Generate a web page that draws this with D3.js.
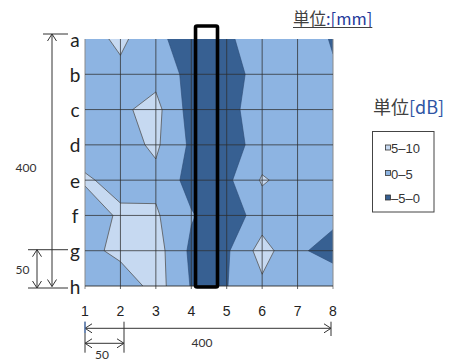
<!DOCTYPE html>
<html><head><meta charset="utf-8">
<script src="https://cdn.jsdelivr.net/npm/d3@7"></script>
<style>html,body{margin:0;padding:0;background:#fff;} svg{display:block;}</style>
</head><body>
<svg id="chart" width="454" height="362"></svg>
<script>
// ---- data ----
const columns = [1, 2, 3, 4, 5, 6, 7, 8];
const rowLabels = ["a", "b", "c", "d", "e", "f", "g", "h"];
const rowA = [2.5, 6.2, 1.0, -2.0, -1.0, 3.3, 2.0, -0.3];
const rowB = [3.0, 3.6, 3.5, -1.7, -2.5, 2.3, 2.5, 0.4];
const rowC = [3.0, 4.2, 6.5, -2.0, -1.5, 2.5, 2.5, 2.5];
const rowD = [3.5, 3.2, 5.8, -0.9, -2.5, 2.3, 2.5, 2.5];
const rowE = [5.4, 4.0, 3.8, -1.8, -1.1, 5.5, 3.0, 2.5];
const rowF = [3.0, 5.54, 5.6, 0.4, -3.0, 2.5, 2.5, 1.7];
const rowG = [3.0, 6.7, 7.1, -1.0, -0.7, 7.0, 1.1, -2.5];
const rowH = [2.5, 1.2, 7.2, -0.3, -0.15, 4.0, 2.5, 4.5];
const bandLevels = [-5, 0, 5, 10];
const legendLabels = ["5\u201310", "0\u20135", "\u20135\u20130"];
const highlightCols = [4.12, 4.74];
const highlightRows = [-0.37, 7.03];
const dimTotal = "400";
const dimStep = "50";
const unitMm = ["単位", ":[mm]"];
const unitDb = ["単位", "[dB]"];

// ---- setup ----
const grid = [rowA, rowB, rowC, rowD, rowE, rowF, rowG, rowH];
const nx = columns.length, ny = rowLabels.length;
const values = grid.flat();

const plot = {left: 85, right: 333, top: 39, bottom: 286};
const x = d3.scaleLinear().domain([1, 8]).range([plot.left, plot.right]);
const y = d3.scaleLinear().domain([0, 7]).range([plot.top, plot.bottom]);
const fills = {light: "#c6d9f1", mid: "#8db4e2", dark: "#376092"};

const svg = d3.select("#chart");
svg.append("defs").append("clipPath").attr("id", "plotClip")
  .append("rect").attr("x", x(1)).attr("y", y(0))
  .attr("width", x(8) - x(1)).attr("height", y(7) - y(0));

const gp = svg.append("g").attr("clip-path", "url(#plotClip)");
gp.append("rect").attr("x", x(1)).attr("y", y(0))
  .attr("width", x(8) - x(1)).attr("height", y(7) - y(0)).attr("fill", fills.light);

// contours on the negated field: region v <= 5 (mid) and v <= 0 (dark)
const neg = values.map(v => -v);
const contours = d3.contours().size([nx, ny])
  .thresholds([-bandLevels[2], -bandLevels[1]])(neg);
const proj = d3.geoTransform({
  point(px, py) { this.stream.point(x(px + 0.5), y(py - 0.5)); }
});
const path = d3.geoPath(proj);
gp.selectAll("path.band").data(contours).join("path")
  .attr("class", "band")
  .attr("d", path)
  .attr("fill", d => d.value === -bandLevels[2] ? fills.mid : fills.dark)
  .attr("stroke", d => d.value === -bandLevels[2] ? "#555" : "#2b4a74")
  .attr("stroke-width", d => d.value === -bandLevels[2] ? 0.8 : 0.6);

// grid lines
const gl = svg.append("g");
columns.forEach((c, i) => {
  const edge = (i === 0 || i === columns.length - 1);
  gl.append("line").attr("x1", x(c)).attr("x2", x(c))
    .attr("y1", y(0)).attr("y2", y(7) + 3)
    .attr("stroke", edge ? "#8a8a8a" : "#2e2e2e").attr("stroke-opacity", edge ? 1 : 0.75)
    .attr("stroke-width", 1);
});
rowLabels.forEach((r, i) => {
  if (i === 0) return;
  gl.append("line").attr("x1", x(1)).attr("x2", x(8))
    .attr("y1", y(i)).attr("y2", y(i))
    .attr("stroke", "#2e2e2e").attr("stroke-opacity", i === 7 ? 0.9 : 0.75).attr("stroke-width", 1);
});

// row labels
svg.append("g").selectAll("text").data(rowLabels).join("text")
  .attr("x", 75).attr("y", (d, i) => y(i))
  .attr("text-anchor", "middle").attr("dominant-baseline", "central")
  .attr("font-family", "Lato, 'Open Sans', sans-serif").attr("font-size", 19)
  .attr("fill", "#222").text(d => d);

// column tick labels
svg.append("g").selectAll("text").data(columns).join("text")
  .attr("x", d => x(d)).attr("y", 311)
  .attr("text-anchor", "middle").attr("dominant-baseline", "central")
  .attr("font-family", "'Liberation Sans', Arial, sans-serif").attr("font-size", 14)
  .attr("fill", "#222").text(d => d);

// highlight rectangle
svg.append("rect")
  .attr("x", x(highlightCols[0])).attr("y", y(highlightRows[0]))
  .attr("width", x(highlightCols[1]) - x(highlightCols[0]))
  .attr("height", y(highlightRows[1]) - y(highlightRows[0]))
  .attr("rx", 1.5).attr("fill", "none").attr("stroke", "#000").attr("stroke-width", 3.6);

// dimension annotations
const dim = svg.append("g").attr("stroke", "#333").attr("stroke-width", 1).attr("fill", "none");
function ln(x1, y1, x2, y2) { dim.append("line").attr("x1", x1).attr("y1", y1).attr("x2", x2).attr("y2", y2); }
function head(px, py, dir) {
  const L = 7, Wd = 4.5;
  let pts;
  if (dir === "up") pts = [[px - Wd, py + L], [px, py], [px + Wd, py + L]];
  if (dir === "down") pts = [[px - Wd, py - L], [px, py], [px + Wd, py - L]];
  if (dir === "left") pts = [[px + L, py - Wd], [px, py], [px + L, py + Wd]];
  if (dir === "right") pts = [[px - L, py - Wd], [px, py], [px - L, py + Wd]];
  dim.append("polyline").attr("points", pts.map(p => p.join(",")).join(" "));
}
// left vertical total
const topDim = 34, botDim = 288;
ln(52, topDim, 52, y(7) + 0.5);
ln(43, topDim, 68, topDim);
head(52, topDim, "up"); head(52, y(7) + 0.5, "down");
ln(28, botDim, 68, botDim);
ln(28, y(6) - 1, 68, y(6) - 1);
ln(37, y(6) - 1, 37, botDim);
head(37, y(6) - 1, "up"); head(37, botDim, "down");
// bottom horizontal total
const yTot = 328.3, yStep = 343.3;
ln(x(1), yTot, x(8) - 2, yTot);
head(x(1), yTot, "left"); head(x(8) - 2, yTot, "right");
ln(x(8) - 2, 321.7, x(8) - 2, 336);
ln(x(1), 321.7, x(1), 352.7);
ln(124, 321.7, 124, 352.7);
ln(x(1), yStep, 124, yStep);
head(x(1), yStep, "left"); head(124, yStep, "right");
svg.append("line").attr("x1", x(1)).attr("x2", x(1)).attr("y1", 321.7).attr("y2", 333)
  .attr("stroke", "#4a7fd0").attr("stroke-width", 1);

const dimText = svg.append("g").attr("font-family", "Lato, 'Open Sans', sans-serif")
  .attr("font-size", 12).attr("fill", "#333").attr("text-anchor", "middle")
  .attr("dominant-baseline", "central");
dimText.append("text").attr("x", 26).attr("y", 167).text(dimTotal);
dimText.append("text").attr("x", 22.5).attr("y", 269).text(dimStep);
dimText.append("text").attr("x", 202).attr("y", 342).text(dimTotal);
dimText.append("text").attr("x", 102).attr("y", 354.5).text(dimStep);

// unit titles
const cjk = "'Noto Sans CJK JP', 'Noto Sans', sans-serif";
const t1 = svg.append("text").attr("x", 293).attr("y", 24.5)
  .attr("font-family", cjk).attr("font-size", 16.5);
t1.append("tspan").attr("fill", "#404040").text(unitMm[0]);
t1.append("tspan").attr("fill", "#23399a").text(unitMm[1]);
const w1 = t1.node().getComputedTextLength();
svg.append("line").attr("x1", 293).attr("x2", 293 + w1).attr("y1", 27.5).attr("y2", 27.5)
  .attr("stroke", "#404040").attr("stroke-width", 1);

const t2 = svg.append("text").attr("x", 373).attr("y", 113.5)
  .attr("font-family", cjk).attr("font-size", 18);
t2.append("tspan").attr("fill", "#404040").text(unitDb[0]);
t2.append("tspan").attr("fill", "#2f55a4").text(unitDb[1]);

// legend
const lg = svg.append("g");
lg.append("rect").attr("x", 372.5).attr("y", 131.5).attr("width", 61.5).attr("height", 80.5)
  .attr("fill", "#fff").attr("stroke", "#444").attr("stroke-width", 1);
const legendFills = [fills.light, fills.mid, fills.dark];
const legendY = [148.5, 174, 198.5];
legendLabels.forEach((lab, i) => {
  lg.append("rect").attr("x", 385.5).attr("y", legendY[i] - 3.5).attr("width", 5).attr("height", 5)
    .attr("fill", legendFills[i]).attr("stroke", "#333").attr("stroke-width", 0.8);
  lg.append("text").attr("x", 391).attr("y", legendY[i]).attr("dominant-baseline", "central")
    .attr("font-family", "'Liberation Sans', Arial, sans-serif").attr("font-size", 13)
    .attr("fill", "#333").text(lab);
});
</script>
</body></html>
